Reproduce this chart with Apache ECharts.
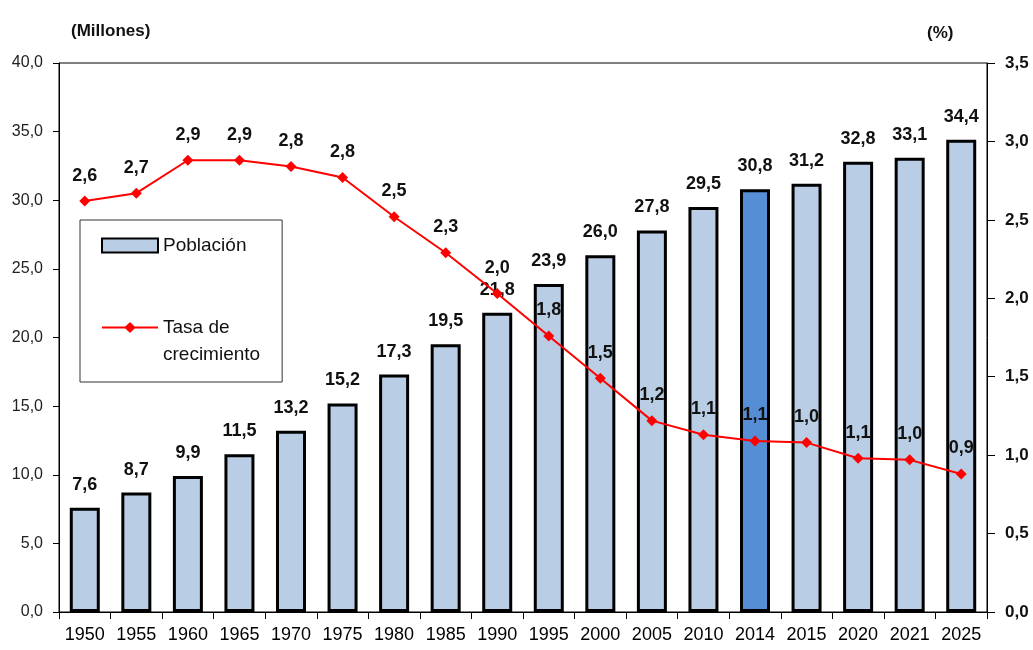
<!DOCTYPE html>
<html>
<head>
<meta charset="utf-8">
<script src="https://cdn.jsdelivr.net/npm/echarts@6/dist/echarts.min.js"></script>
<style>
  html, body { margin: 0; padding: 0; background: #fff; }
  #chart { width: 1033px; height: 650px; }
</style>
</head>
<body>
<div id="chart"></div>
<script>
const years = ['1950', '1955', '1960', '1965', '1970', '1975', '1980', '1985', '1990',
  '1995', '2000', '2005', '2010', '2014', '2015', '2020', '2021', '2025'];
const poblacion = [7.6, 8.7, 9.9, 11.5, 13.2, 15.2, 17.3, 19.5, 21.8,
  23.9, 26.0, 27.8, 29.5, 30.8, 31.2, 32.8, 33.1, 34.4];
const tasa = [2.62, 2.67, 2.88, 2.88, 2.84, 2.77, 2.52, 2.29, 2.03,
  1.76, 1.49, 1.22, 1.13, 1.09, 1.08, 0.98, 0.97, 0.88];
// labels as printed in the source (rounded there)
const tasaLabels = ['2,6', '2,7', '2,9', '2,9', '2,8', '2,8', '2,5', '2,3', '2,0',
  '1,8', '1,5', '1,2', '1,1', '1,1', '1,0', '1,1', '1,0', '0,9'];
const leftTicks = { min: 0, max: 40, interval: 5 };
const rightTicks = { min: 0, max: 3.5, interval: 0.5 };
const highlightYear = '2014';

const font = 'Liberation Sans, Arial, sans-serif';
const comma = (v) => v.toFixed(1).replace('.', ',');

const chart = echarts.init(document.getElementById('chart'));

chart.setOption({
  animation: false,
  textStyle: { fontFamily: font },
  grid: {
    left: 59, right: 46, top: 63, bottom: 38,
    show: true, borderColor: '#000', borderWidth: 1
  },
  title: [
    { text: '(Millones)', left: 66, top: 18,
      textStyle: { fontFamily: font, fontSize: 17, fontWeight: 'bold', color: '#111' } },
    { text: '(%)', left: 922, top: 20,
      textStyle: { fontFamily: font, fontSize: 17, fontWeight: 'bold', color: '#111' } }
  ],
  legend: {
    orient: 'vertical',
    left: 80, top: 220,
    padding: [12, 22, 14, 21],
    itemWidth: 56, itemHeight: 14, itemGap: 28,
    borderColor: '#333', borderWidth: 1,
    data: [
      { name: 'Población', icon: 'rect' },
      { name: 'Tasa de crecimiento' }
    ],
    formatter: (name) => name === 'Tasa de crecimiento' ? ' \nTasa de\ncrecimiento' : name,
    textStyle: { fontFamily: font, fontSize: 19, color: '#111', lineHeight: 27 }
  },
  xAxis: {
    type: 'category',
    data: years,
    axisLine: { lineStyle: { color: '#000', width: 1 } },
    axisTick: { show: true, length: 7, lineStyle: { color: '#000' } },
    axisLabel: { margin: 14, fontSize: 18, color: '#000', interval: 0 }
  },
  yAxis: [
    {
      type: 'value', ...leftTicks,
      splitLine: { show: false },
      axisLine: { show: true, lineStyle: { color: '#000' } },
      axisTick: { show: true, length: 6, lineStyle: { color: '#000' } },
      axisLabel: { margin: 16, fontSize: 16, color: '#222', formatter: comma }
    },
    {
      type: 'value', ...rightTicks,
      position: 'right',
      splitLine: { show: false },
      axisLine: { show: true, lineStyle: { color: '#000' } },
      axisTick: { show: true, length: 8, lineStyle: { color: '#000' } },
      axisLabel: { margin: 18, fontSize: 17, fontWeight: 'bold', color: '#111', formatter: comma }
    }
  ],
  series: [
    {
      name: 'Población',
      type: 'bar',
      barWidth: 30,
      data: poblacion.map((v, i) => ({
        value: v,
        itemStyle: years[i] === highlightYear ? { color: '#558ED5' } : undefined
      })),
      itemStyle: { color: '#B9CDE5', borderColor: '#000', borderWidth: 3 },
      label: {
        show: true, position: 'top', distance: 14,
        fontSize: 18, fontWeight: 'bold', color: '#111',
        formatter: (p) => comma(p.value)
      },
      z: 2
    },
    {
      name: 'Tasa de crecimiento',
      type: 'line',
      yAxisIndex: 1,
      data: tasa,
      symbol: 'diamond',
      symbolSize: 11,
      itemStyle: { color: '#FF0000' },
      lineStyle: { color: '#FF0000', width: 2 },
      label: {
        show: true, position: 'top', distance: 11,
        fontSize: 18, fontWeight: 'bold', color: '#111',
        formatter: (p) => tasaLabels[p.dataIndex]
      },
      z: 3
    }
  ]
});
</script>
</body>
</html>
